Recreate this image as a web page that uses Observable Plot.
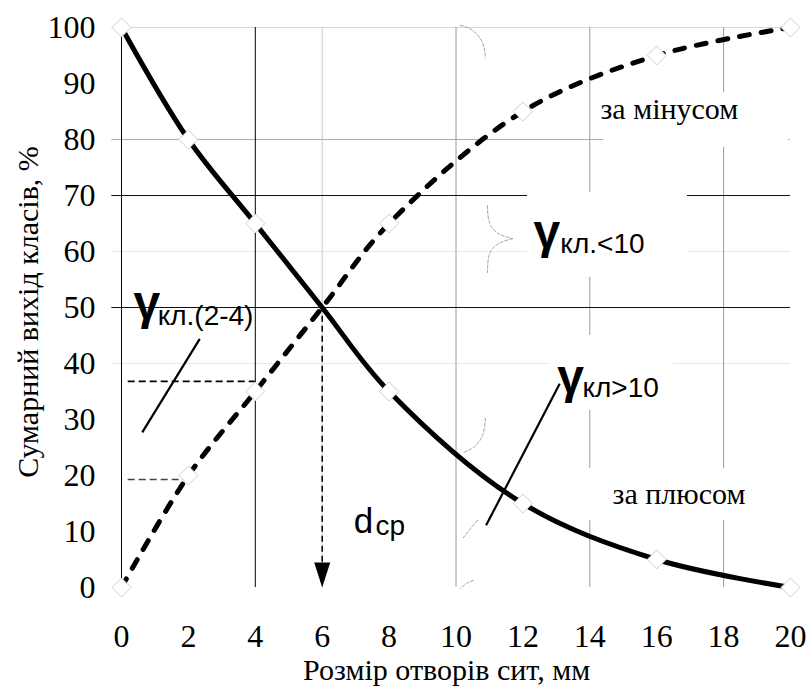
<!DOCTYPE html>
<html>
<head>
<meta charset="utf-8">
<script src="https://cdn.jsdelivr.net/npm/d3@7"></script>
<script src="https://cdn.jsdelivr.net/npm/@observablehq/plot@0.6"></script>
<style>
  html, body { margin: 0; padding: 0; background: #fff; }
  #chart svg { font-family: "Liberation Serif", "Times New Roman", serif !important; }
</style>
</head>
<body>
<div id="chart"></div>
<script>
// ---- data ----
const sieveSizes = [0, 2, 4, 6, 8, 12, 16, 20];          // мм
const minusYield = [0, 20, 35, 50, 65, 85, 95, 100];     // за мінусом, %
const plusYield  = [100, 80, 65, 50, 35, 15, 5, 0];      // за плюсом, %
const markerSizes = [0, 2, 4, 8, 12, 16, 20];

const xTicks = [0, 2, 4, 6, 8, 10, 12, 14, 16, 18, 20];
const yTicks = [0, 10, 20, 30, 40, 50, 60, 70, 80, 90, 100];

const darkGridX = [0, 4];
const midGridX = [10, 14, 18];
const lightGridX = [6];
const darkGridY = [70, 50];
const midGridY = [80];
const lightGridY = [100];
const faintGridY = [60, 40];

const dMean = 6;                 // d_ср
const dMeanYield = 50;
const class24Low = 19.3;         // γ кл.(2-4) bounds
const class24High = 36.8;

const xTitle = "Розмір отворів сит, мм";
const yTitle = "Сумарний вихід класів, %";

// label background boxes (data units)
const labelBoxes = [
  {x1: 14.41, x2: 19.94, y1: 78.6, y2: 88.4},
  {x1: 12.14, x2: 16.92, y1: 55.4, y2: 70.5},
  {x1: 12.77, x2: 16.50, y1: 31.6, y2: 45.0},
  {x1: 13.95, x2: 19.25, y1: 12.0, y2: 21.25}
];

// faint braces
const braces = [
  {id: "a", x: 10.13, y: 100.4}, {id: "a", x: 10.49, y: 99.5}, {id: "a", x: 10.79, y: 97.3}, {id: "a", x: 10.88, y: 94.5},
  {id: "b", x: 10.94, y: 68.2}, {id: "b", x: 11.0, y: 65.2}, {id: "b", x: 11.27, y: 63.2}, {id: "b", x: 11.69, y: 62.3},
  {id: "c", x: 11.69, y: 62.3}, {id: "c", x: 11.27, y: 61.4}, {id: "c", x: 11.0, y: 59.5}, {id: "c", x: 10.94, y: 56.25},
  {id: "d", x: 10.88, y: 30.2}, {id: "d", x: 10.79, y: 27.1}, {id: "d", x: 10.52, y: 25.0}, {id: "d", x: 10.22, y: 24.1},
  {id: "e", x: 10.64, y: 12.0}, {id: "e", x: 10.43, y: 10.5}, {id: "e", x: 10.22, y: 8.9},
  {id: "f", x: 10.52, y: 1.3}, {id: "f", x: 10.31, y: 0.7}, {id: "f", x: 10.13, y: -0.2}
];

// leader lines
const leaders = [
  {x1: 0.62, y1: 27.7, x2: 2.34, y2: 44.4},
  {x1: 10.9, y1: 11.1, x2: 13.1, y2: 36.4}
];

// labels
const gammaLabels = [
  {x: 0.36, y: 47.9, sub: "кл.(2-4)", sx: 1.08, sy: 46.8},
  {x: 12.32, y: 60.7, sub: "кл.<10", sx: 13.12, sy: 59.8},
  {x: 13.03, y: 34.8, sub: "кл>10", sx: 13.78, sy: 34.1}
];
const sideLabels = [
  {x: 14.32, y: 83.75, text: "за мінусом"},
  {x: 14.68, y: 15.0, text: "за плюсом"}
];
const dLabel = {x: 6.94, y: 9.82, sx: 7.59, sy: 9.29};

// ---- build ----
const rows = sieveSizes.map((s, i) => ({size: s, minus: minusYield[i], plus: plusYield[i]}));
const markerRows = rows.filter(r => markerSizes.includes(r.size));

const serif = '"Liberation Serif", "Times New Roman", serif';
const sans = '"Liberation Sans", Arial, sans-serif';

const diamond = {
  draw(ctx) {
    const h = 9.5;
    ctx.moveTo(0, -h); ctx.lineTo(h, 0); ctx.lineTo(0, h); ctx.lineTo(-h, 0); ctx.closePath();
  }
};
const arrowHead = {
  draw(ctx) {
    ctx.moveTo(0, 0); ctx.lineTo(-8, -25); ctx.lineTo(8, -25); ctx.closePath();
  }
};

const chart = Plot.plot({
  width: 811,
  height: 686,
  marginLeft: 121,
  marginRight: 21,
  marginTop: 27,
  marginBottom: 99,
  style: {fontFamily: serif, fontSize: "32px", background: "#fff", color: "#000", overflow: "visible"},
  x: {domain: [0, 20], ticks: xTicks, tickSize: 0, tickPadding: 37, label: null},
  y: {domain: [0, 100], ticks: yTicks, tickSize: 0, tickPadding: 26, label: null},
  marks: [
    // grid
    Plot.ruleY(faintGridY, {x1: -0.29, x2: 20, stroke: "#e8e8e8", strokeWidth: 1}),
    Plot.ruleY(lightGridY, {x1: -0.29, x2: 20, stroke: "#d8d8d8", strokeWidth: 1}),
    Plot.ruleY(midGridY, {x1: -0.29, x2: 20, stroke: "#ababab", strokeWidth: 1}),
    Plot.ruleX(lightGridX, {y1: 0, y2: 100, stroke: "#c8c8c8", strokeWidth: 1}),
    Plot.ruleX(midGridX, {y1: 0, y2: 100, stroke: "#9a9a9a", strokeWidth: 1}),
    Plot.ruleX(darkGridX, {y1: 0, y2: 100, stroke: "#000", strokeWidth: 1}),
    Plot.ruleY(darkGridY, {x1: -0.29, x2: 20, stroke: "#111", strokeWidth: 1}),
    // label backgrounds
    Plot.rect(labelBoxes, {x1: "x1", x2: "x2", y1: "y1", y2: "y2", fill: "#fff"}),
    // braces
    Plot.line(braces, {x: "x", y: "y", z: "id", stroke: "#a0a0a0", strokeWidth: 1, strokeDasharray: "3,2", curve: "natural"}),
    // guides
    Plot.ruleY([class24High], {x1: 0.2, x2: 4, stroke: "#000", strokeWidth: 1.8, strokeDasharray: "7,4"}),
    Plot.ruleY([class24Low], {x1: 0.2, x2: 2, stroke: "#444", strokeWidth: 1.5, strokeDasharray: "7,4"}),
    Plot.ruleX([dMean], {y1: 4.5, y2: dMeanYield, stroke: "#000", strokeWidth: 1.5, strokeDasharray: "6,4"}),
    Plot.dot([dMean], {x: d => d, y: 0, symbol: arrowHead, fill: "#000", stroke: "none"}),
    // curves
    Plot.line(rows, {x: "size", y: "minus", curve: "catmull-rom", stroke: "#000", strokeWidth: 5, strokeDasharray: "10,12"}),
    Plot.line(rows, {x: "size", y: "plus", curve: "catmull-rom", stroke: "#000", strokeWidth: 5}),
    Plot.dot(markerRows, {x: "size", y: "minus", symbol: diamond, fill: "#fff", stroke: "#cfcfcf", strokeWidth: 1}),
    Plot.dot(markerRows, {x: "size", y: "plus", symbol: diamond, fill: "#fff", stroke: "#cfcfcf", strokeWidth: 1}),
    // leaders
    Plot.link(leaders, {x1: "x1", y1: "y1", x2: "x2", y2: "y2", stroke: "#000", strokeWidth: 2.2}),
    // labels
    Plot.text(gammaLabels, {x: "x", y: "y", text: () => "γ", fontFamily: sans, fontWeight: "bold", fontSize: 48, textAnchor: "start", lineAnchor: "bottom", fill: "#000"}),
    Plot.text(gammaLabels, {x: "sx", y: "sy", text: "sub", fontFamily: sans, fontSize: 28, textAnchor: "start", lineAnchor: "bottom", fill: "#000"}),
    Plot.text([dLabel], {x: "x", y: "y", text: () => "d", fontFamily: sans, fontSize: 35, textAnchor: "start", lineAnchor: "bottom", fill: "#000"}),
    Plot.text([dLabel], {x: "sx", y: "sy", text: () => "ср", fontFamily: sans, fontSize: 28, textAnchor: "start", lineAnchor: "bottom", fill: "#000"}),
    Plot.text(sideLabels, {x: "x", y: "y", text: "text", fontFamily: serif, fontSize: 30, textAnchor: "start", lineAnchor: "bottom", fill: "#000"}),
    // axis titles
    Plot.text([xTitle], {x: 9.72, frameAnchor: "bottom", dy: 92, text: d => d, fontFamily: serif, fontSize: 30, textAnchor: "middle", lineAnchor: "bottom", fill: "#000"}),
    Plot.text([yTitle], {y: 49.2, frameAnchor: "left", dx: -93, rotate: -90, text: d => d, fontFamily: serif, fontSize: 30, textAnchor: "middle", lineAnchor: "middle", fill: "#000"})
  ]
});
document.getElementById("chart").appendChild(chart);
</script>
</body>
</html>
